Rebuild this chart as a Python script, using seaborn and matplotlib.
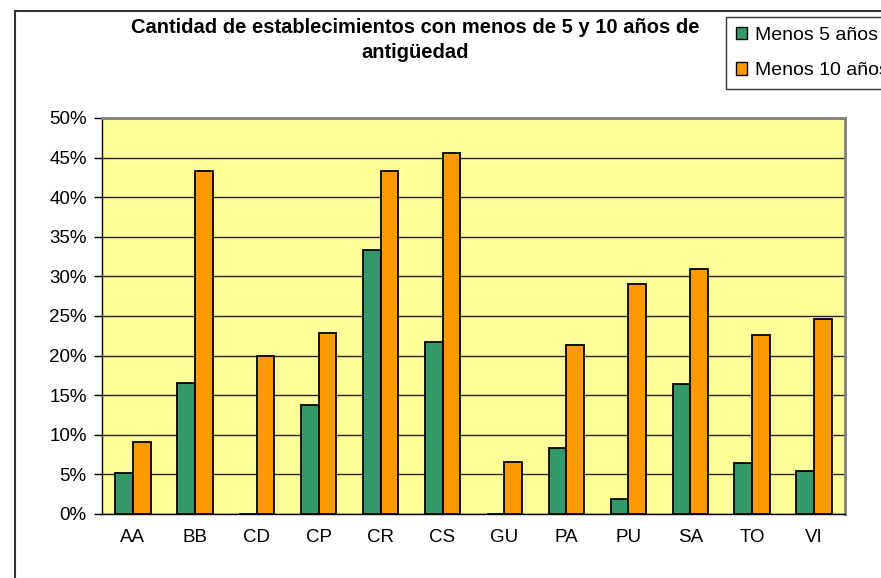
import seaborn as sns
import matplotlib.pyplot as plt
import pandas as pd
from matplotlib.patches import Patch, Rectangle
from matplotlib.ticker import FuncFormatter, MultipleLocator

# Datos (% de establecimientos)
categorias = ['AA', 'BB', 'CD', 'CP', 'CR', 'CS', 'GU', 'PA', 'PU', 'SA', 'TO', 'VI']
menos_5 = [5.2, 16.5, 0.0, 13.7, 33.3, 21.7, 0.0, 8.3, 1.9, 16.4, 6.4, 5.4]
menos_10 = [9.1, 43.3, 19.9, 22.8, 43.3, 45.6, 6.6, 21.4, 29.0, 30.9, 22.6, 24.6]
series = ['Menos 5 años', 'Menos 10 años']
colores = ['#339966', '#FF9900']

df = pd.DataFrame({
    'cat': categorias * 2,
    'valor': menos_5 + menos_10,
    'serie': [series[0]] * len(categorias) + [series[1]] * len(categorias),
})

sns.set_style("white")
plt.rcParams['font.family'] = ['Liberation Sans', 'DejaVu Sans']
plt.rcParams['text.color'] = 'black'
plt.rcParams['xtick.color'] = 'black'
plt.rcParams['ytick.color'] = 'black'

fig = plt.figure(figsize=(8.81, 5.78), dpi=100)
ax = fig.add_axes([102 / 881, 1 - 514 / 578, 743 / 881, 396 / 578])
ax.set_facecolor('#FFFF99')

sns.barplot(data=df, x='cat', y='valor', hue='serie', palette=colores,
            saturation=1, width=0.57, gap=0, edgecolor='black', linewidth=1.3,
            legend=False, ax=ax, zorder=3)

ax.set_ylim(0, 50)
ax.set_xlim(-0.5, len(categorias) - 0.5)
ax.yaxis.set_major_locator(MultipleLocator(5))
ax.yaxis.set_major_formatter(FuncFormatter(lambda v, p: f'{int(v)}%'))
ax.grid(axis='y', color='#222222', linewidth=1, zorder=0)
ax.set_axisbelow(True)
ax.set_xlabel('')
ax.set_ylabel('')

# marcas entre categorias
ax.set_xticks([i - 0.5 for i in range(len(categorias) + 1)], minor=True)
ax.tick_params(axis='x', which='major', length=0, labelsize=13.5, pad=11)
ax.tick_params(axis='x', which='minor', length=5, width=1, color='black', direction='out')
ax.tick_params(axis='y', length=6, width=1, color='black', direction='out', labelsize=13.5, pad=5)
ax.tick_params(left=True, bottom=True)

for s in ['left', 'bottom']:
    ax.spines[s].set_color('black')
    ax.spines[s].set_linewidth(1)
for s in ['top', 'right']:
    ax.spines[s].set_color('#808080')
    ax.spines[s].set_linewidth(2)

fig.text(415 / 881, 1 - 40 / 578,
         'Cantidad de establecimientos con menos de 5 y 10 años de\nantigüedad',
         ha='center', va='center', fontsize=14.5, fontweight='bold', linespacing=1.35)

handles = [Patch(facecolor=c, edgecolor='black', linewidth=1) for c in colores]
leg = fig.legend(handles, series, loc='upper left', bbox_to_anchor=(726 / 881, 1 - 17 / 578),
                 frameon=True, fancybox=False, edgecolor='black', fontsize=14,
                 handlelength=0.6, handleheight=0.6, handletextpad=0.4,
                 labelspacing=0.95, borderpad=0.5, borderaxespad=0)
leg.get_frame().set_linewidth(1)

# marco exterior del grafico
fig.patches.append(Rectangle((15 / 881, -0.1), 1.0, 1.1 - 11 / 578,
                             transform=fig.transFigure, fill=False,
                             edgecolor='#333333', linewidth=1.5))

fig.savefig('out.png', dpi=100)
